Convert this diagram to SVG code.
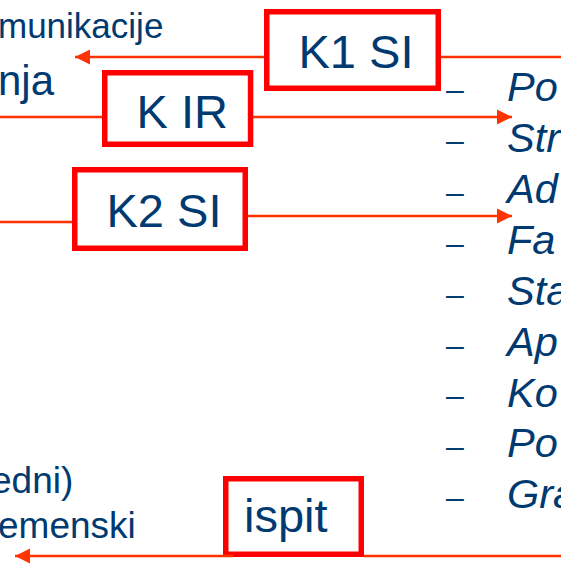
<svg xmlns="http://www.w3.org/2000/svg" width="561" height="565" viewBox="0 0 561 565">
<style>
.t{font-family:"Liberation Sans",Arial,sans-serif;fill:#003A70}
.box rect{fill:#fff;stroke:#FF0000;stroke-width:5.5}
.lbl{font-size:47px}
.it{font-style:italic;font-size:41.5px}
.dash{font-size:32px}
.c{stroke:#FF3300;stroke-width:2.4;fill:none}
</style>
<defs>
<marker id="ah" markerUnits="userSpaceOnUse" markerWidth="16" markerHeight="16" refX="15" refY="8" orient="auto">
<path d="M0,0.5 L15,8 L0,15.5 Z" fill="#FF3300"/>
</marker>
</defs>
<g id="texts">
<text class="t" x="-2" y="38" font-size="35">munikacije</text>
<text class="t" x="-2" y="95" font-size="42">nja</text>
<text class="t" x="-9" y="493" font-size="37">edni)</text>
<text class="t" x="-2" y="538" font-size="37">emenski</text>
</g>
<g id="list">
<text class="t dash" x="446" y="100">–</text>
<text class="t dash" x="446" y="151">–</text>
<text class="t dash" x="446" y="203">–</text>
<text class="t dash" x="446" y="254">–</text>
<text class="t dash" x="446" y="305">–</text>
<text class="t dash" x="446" y="356">–</text>
<text class="t dash" x="446" y="406">–</text>
<text class="t dash" x="446" y="457">–</text>
<text class="t dash" x="446" y="508">–</text>
<text class="t it" x="507" y="101">Po</text>
<text class="t it" x="507" y="152">Str</text>
<text class="t it" x="507" y="203">Ad</text>
<text class="t it" x="507" y="254">Fa</text>
<text class="t it" x="507" y="305">Sta</text>
<text class="t it" x="507" y="356">Ap</text>
<text class="t it" x="507" y="407">Ko</text>
<text class="t it" x="507" y="457">Po</text>
<text class="t it" x="507" y="508">Gra</text>
</g>
<g id="connectors">
<line class="c" x1="264" y1="57" x2="75" y2="57" marker-end="url(#ah)"/>
<line class="c" x1="441" y1="57" x2="561" y2="57"/>
<line class="c" x1="0" y1="117" x2="102" y2="117"/>
<line class="c" x1="253" y1="117" x2="512" y2="117" marker-end="url(#ah)"/>
<line class="c" x1="0" y1="222" x2="72" y2="222"/>
<line class="c" x1="248" y1="216" x2="512" y2="216" marker-end="url(#ah)"/>
<line class="c" x1="561" y1="556" x2="364" y2="556"/>
</g>
<g id="k1si" class="box">
<rect x="266.75" y="11.75" width="171.5" height="76.5"/>
<text class="t lbl" x="298.5" y="68">K1 SI</text>
</g>
<g id="kir" class="box">
<rect x="104.75" y="72.75" width="145.8" height="71.5"/>
<text class="t lbl" x="136.5" y="128">K IR</text>
</g>
<g id="k2si" class="box">
<rect x="74.75" y="169.75" width="170.5" height="78.5"/>
<text class="t lbl" x="106.5" y="227">K2 SI</text>
</g>
<g id="ispit" class="box">
<rect x="225.75" y="478.75" width="135.5" height="75.5"/>
<text class="t lbl" x="244" y="532">ispit</text>
</g>
<g id="connectors2">
<line class="c" x1="233" y1="556" x2="15" y2="556" marker-end="url(#ah)"/>
</g>
</svg>
